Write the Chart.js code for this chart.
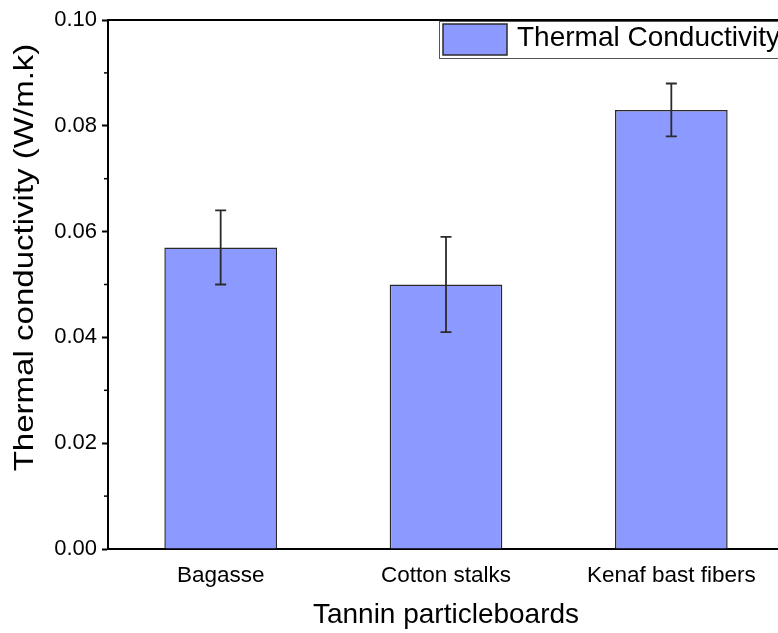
<!DOCTYPE html>
<html>
<head>
<meta charset="utf-8">
<script src="https://cdn.jsdelivr.net/npm/chart.js@4/dist/chart.umd.min.js"></script>
<style>
  html, body { margin: 0; padding: 0; background: #fff; overflow: hidden; }
  #wrap { width: 778px; height: 633px; overflow: hidden; }
</style>
</head>
<body>
<div id="wrap"><canvas id="tcChart" width="786" height="633"></canvas></div>
<script>
var CATEGORIES = ["Bagasse", "Cotton stalks", "Kenaf bast fibers"],
    CONDUCTIVITY = [0.057, 0.050, 0.083],
    CONDUCTIVITY_ERR = [0.007, 0.009, 0.005],
    Y_TICKS = [0, 0.02, 0.04, 0.06, 0.08, 0.10];

var BAR_COLOR = "#8c99ff",
    EDGE_COLOR = "#2b2b2b",
    FONT = '"Liberation Sans", Arial, sans-serif';

// error bars, frame, minor ticks, legend and rotated y title
var extras = {
    id: 'extras',
    afterDatasetsDraw: function(chart) {
        var ctx = chart.ctx, x = chart.scales.x, y = chart.scales.y;
        ctx.save();
        ctx.strokeStyle = '#2b2b2b';
        ctx.lineWidth = 1.8;
        CONDUCTIVITY.forEach(function(v, i) {
            var cx = x.getPixelForValue(i),
                top = y.getPixelForValue(v + CONDUCTIVITY_ERR[i]),
                bot = y.getPixelForValue(v - CONDUCTIVITY_ERR[i]);
            ctx.beginPath();
            ctx.moveTo(cx, top); ctx.lineTo(cx, bot);
            ctx.moveTo(cx - 5.5, top); ctx.lineTo(cx + 5.5, top);
            ctx.moveTo(cx - 5.5, bot); ctx.lineTo(cx + 5.5, bot);
            ctx.stroke();
        });
        ctx.restore();
    },
    afterDraw: function(chart) {
        var ctx = chart.ctx, a = chart.chartArea, y = chart.scales.y;
        ctx.save();

        // top and right frame
        ctx.strokeStyle = '#000';
        ctx.lineWidth = 2;
        ctx.beginPath();
        ctx.moveTo(a.left, a.top);
        ctx.lineTo(a.right, a.top);
        ctx.lineTo(a.right, a.bottom);
        ctx.stroke();

        // minor ticks halfway between the labelled ones
        ctx.lineWidth = 1.5;
        for (var i = 0; i < y.ticks.length - 1; i++) {
            var py = y.getPixelForValue((y.ticks[i].value + y.ticks[i + 1].value) / 2);
            ctx.beginPath();
            ctx.moveTo(a.left - 4, py);
            ctx.lineTo(a.left, py);
            ctx.stroke();
        }

        // legend box
        var lx = a.right - 345, ly = a.top + 1;
        ctx.fillStyle = '#fff';
        ctx.fillRect(lx, ly, 360, 37);
        ctx.strokeStyle = '#555';
        ctx.lineWidth = 1;
        ctx.strokeRect(lx + 0.5, ly + 0.5, 360, 37);
        ctx.fillStyle = BAR_COLOR;
        ctx.fillRect(lx + 4, ly + 3, 64, 31);
        ctx.strokeStyle = EDGE_COLOR;
        ctx.lineWidth = 1.5;
        ctx.strokeRect(lx + 4, ly + 3, 64, 31);
        ctx.fillStyle = '#000';
        ctx.font = '28px ' + FONT;
        ctx.textBaseline = 'alphabetic';
        ctx.textAlign = 'left';
        ctx.fillText(chart.data.datasets[0].label, lx + 78, ly + 25);

        // y axis title, slightly stretched along its length
        ctx.translate(33, (a.top + a.bottom) / 2 - 27);
        ctx.rotate(-Math.PI / 2);
        ctx.scale(1.18, 1);
        ctx.textAlign = 'center';
        ctx.fillText('Thermal conductivity (W/m.k)', 0, 0);
        ctx.restore();
    }
};

var ctx = document.getElementById("tcChart").getContext("2d");
var tcChart = new Chart(ctx, {
    type: 'bar',
    data: {
        labels: CATEGORIES,
        datasets: [{
            label: 'Thermal Conductivity',
            data: CONDUCTIVITY,
            backgroundColor: BAR_COLOR,
            borderColor: EDGE_COLOR,
            borderWidth: 1.5,
            barPercentage: 0.5,
            categoryPercentage: 1.0
        }]
    },
    options: {
        responsive: false,
        animation: false,
        devicePixelRatio: 1,
        layout: { padding: { top: 20, right: 2, left: 0, bottom: 0 } },
        plugins: {
            legend: { display: false },
            title: { display: false },
            tooltip: { enabled: false }
        },
        scales: {
            x: {
                grid: { display: false, drawTicks: false },
                border: { display: true, color: '#000', width: 2 },
                ticks: {
                    color: '#000',
                    padding: 13,
                    maxRotation: 0,
                    font: { family: FONT, size: 22.5 }
                },
                title: {
                    display: true,
                    text: 'Tannin particleboards',
                    color: '#000',
                    font: { family: FONT, size: 28 },
                    padding: { top: 0, bottom: 1 }
                },
                afterFit: function(scale) { scale.height = 84; }
            },
            y: {
                min: 0,
                max: 0.1,
                afterBuildTicks: function(scale) {
                    scale.ticks = Y_TICKS.map(function(v) { return { value: v }; });
                },
                grid: {
                    drawOnChartArea: false,
                    drawTicks: true,
                    tickLength: 6,
                    tickWidth: 2,
                    tickColor: '#000'
                },
                border: { display: true, color: '#000', width: 2 },
                ticks: {
                    color: '#000',
                    padding: 5,
                    font: { family: FONT, size: 22 },
                    callback: function(v) { return Number(v).toFixed(2); }
                },
                afterFit: function(scale) { scale.width = 108; }
            }
        }
    },
    plugins: [extras]
});
</script>
</body>
</html>
